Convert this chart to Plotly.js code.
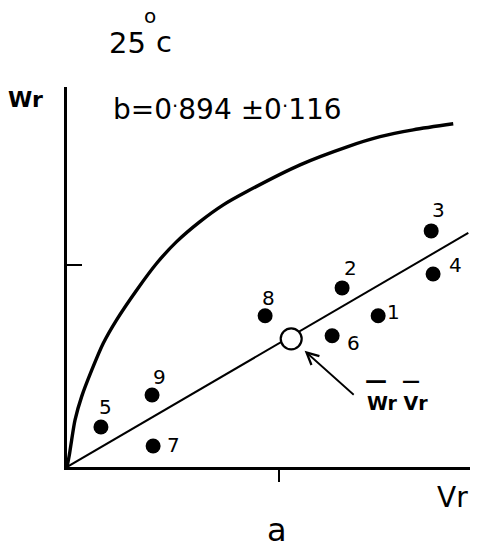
<!DOCTYPE html>
<html>
<head>
<meta charset="utf-8">
<script src="https://cdn.plot.ly/plotly-3.0.1.min.js"></script>
<style>
  html, body { margin: 0; padding: 0; background: #fff; }
  #chart { width: 478px; height: 551px; }
</style>
</head>
<body>
<div id="chart"></div>
<script>
// ---- data (units: x tick = 1 Vr, y tick = 1 Wr) ----
const pointLabels = ["1", "2", "3", "4", "5", "6", "7", "8", "9"];
const pointVr = [1.467, 1.297, 1.717, 1.726, 0.160, 1.250, 0.406, 0.934, 0.401];
const pointWr = [0.748, 0.886, 1.168, 0.955, 0.198, 0.649, 0.104, 0.748, 0.356];

const meanVr = [1.057];
const meanWr = [0.634];

const regVr = [0, 1.892];
const regWr = [0, 1.158];

const limitVr = [0, 0.011, 0.022, 0.038, 0.069, 0.117, 0.171, 0.234, 0.329, 0.423, 0.517, 0.627, 0.737, 0.848, 1.099, 1.321, 1.476, 1.632, 1.821];
const limitWr = [0, 0.059, 0.134, 0.233, 0.348, 0.480, 0.612, 0.728, 0.876, 1.008, 1.115, 1.214, 1.297, 1.363, 1.495, 1.584, 1.634, 1.668, 1.698];

const tickVr = [1];
const tickWr = [1];

// ---- layout helpers ----
const W = 478, H = 551;
const M = { l: 67, r: 8, t: 87, b: 84 };
const PW = W - M.l - M.r, PH = H - M.t - M.b;
const px = v => (v - M.l) / PW;          // pixel x -> paper
const py = v => (H - M.b - v) / PH;      // pixel y -> paper
const FONT = "DejaVu Sans, sans-serif";

// label offsets (screen px) for the point numbers
const labelDx = [15, 8, 7, 22, 5, 21, 20, 3, 7];
const labelDy = [-4, -20, -21, -9, -20, 7, -1, -18, -18];

const annotations = pointLabels.map((t, i) => ({
  x: pointVr[i], y: pointWr[i], xref: "x", yref: "y",
  text: t, showarrow: false,
  xshift: labelDx[i], yshift: -labelDy[i],
  font: { family: FONT, size: 20, color: "#000" }
}));

// arrow to the mean point
annotations.push({
  x: meanVr[0], y: meanWr[0], xref: "x", yref: "y",
  text: " ", showarrow: true, ax: 66, ay: 59,
  arrowhead: 5, arrowsize: 1.3, arrowwidth: 1.8, arrowcolor: "#000",
  standoff: 18
});

function txt(text, cx, cy, size, extra) {
  return Object.assign({
    xref: "paper", yref: "paper", x: px(cx), y: py(cy),
    xanchor: "center", yanchor: "middle", text: text, showarrow: false,
    font: { family: FONT, size: size, color: "#000" }
  }, extra || {});
}

annotations.push(txt("25", 127, 43, 29));
annotations.push(txt("o", 150, 16, 20));
annotations.push(txt("c", 164, 42, 29));
annotations.push(txt("<b>Wr</b>", 25, 99, 22));
annotations.push(txt("b=0<sup>.</sup>894 ±0<sup>.</sup>116", 227, 108, 28));
annotations.push(txt("Vr", 452, 498, 28));
annotations.push(txt("a", 277, 530, 32));
annotations.push(txt("<b>Wr Vr</b>", 397, 403, 19));
annotations.push(txt("<b>—</b>", 376, 380, 22));
annotations.push(txt("<b>—</b>", 411, 380, 18));

const traces = [
  {
    x: limitVr, y: limitWr, type: "scatter", mode: "lines",
    line: { color: "#000", width: 3.4, shape: "spline", smoothing: 0.8 },
    hoverinfo: "skip"
  },
  {
    x: regVr, y: regWr, type: "scatter", mode: "lines",
    line: { color: "#000", width: 2 }, hoverinfo: "skip"
  },
  {
    x: pointVr, y: pointWr, type: "scatter", mode: "markers",
    marker: { color: "#000", size: 15 }, cliponaxis: false
  },
  {
    x: meanVr, y: meanWr, type: "scatter", mode: "markers",
    marker: { color: "#fff", size: 21, line: { color: "#000", width: 2.2 } },
    cliponaxis: false
  }
];

const layout = {
  width: W, height: H,
  margin: M,
  paper_bgcolor: "#fff", plot_bgcolor: "#fff",
  showlegend: false,
  font: { family: FONT, color: "#000" },
  xaxis: {
    range: [0, 1.90], showline: true, linewidth: 3, linecolor: "#000",
    ticks: "outside", tickvals: tickVr, ticklen: 12, tickwidth: 2, tickcolor: "#000",
    showticklabels: false, showgrid: false, zeroline: false, fixedrange: true
  },
  yaxis: {
    range: [0, 1.88], showline: true, linewidth: 3, linecolor: "#000",
    ticks: "inside", tickvals: tickWr, ticklen: 15, tickwidth: 2, tickcolor: "#000",
    showticklabels: false, showgrid: false, zeroline: false, fixedrange: true
  },
  annotations: annotations
};

Plotly.newPlot("chart", traces, layout, { staticPlot: true, displayModeBar: false });
</script>
</body>
</html>
